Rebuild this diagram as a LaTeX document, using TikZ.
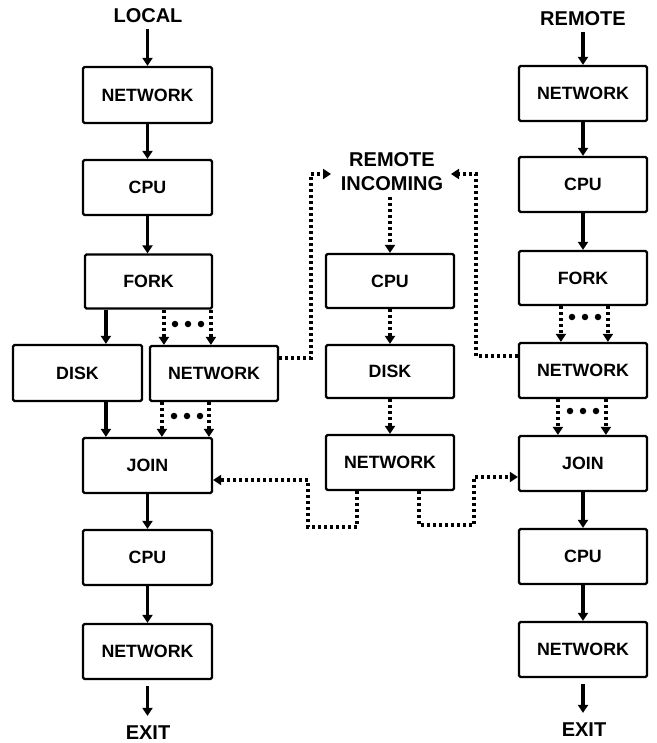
\documentclass[tikz,border=0pt]{standalone}
\usepackage{fontspec}
\setmainfont{Liberation Sans}
\usetikzlibrary{arrows.meta}
\begin{document}
\begin{tikzpicture}[x=1pt,y=-1pt,
  box/.style={draw,line width=2.2pt,rounded corners=1.5pt,minimum width=128pt,minimum height=55pt,inner sep=0pt,font=\fontsize{17.8}{20}\selectfont\bfseries},
  lbl/.style={font=\fontsize{20}{24}\selectfont\bfseries,inner sep=0pt,align=center},
  solidarrow/.style={line width=3.3pt,-{Triangle[length=8pt,width=10pt]}},
  dotarrow/.style={line width=3.3pt,dash pattern=on 3pt off 3pt,-{Triangle[length=8pt,width=10pt]}},
  blob/.style={circle,fill=black,minimum size=6.5pt,inner sep=0pt}]
\useasboundingbox (0,0) rectangle (656,743);
% left column
\node[lbl] (local) at (148,16) {LOCAL};
\node[box,minimum width=129pt,minimum height=56pt] (lnet1) at (147.5,95) {NETWORK};
\node[box,minimum width=129pt] (lcpu1) at (147.5,187.5) {CPU};
\node[box,minimum width=127pt,minimum height=54pt] (lfork) at (148.5,281.5) {FORK};
\node[box,minimum width=129pt,minimum height=56pt] (ldisk) at (77.5,373) {DISK};
\node[box] (lnet2) at (214,373.5) {NETWORK};
\node[box,minimum width=129pt] (ljoin) at (147.5,465.5) {JOIN};
\node[box,minimum width=129pt] (lcpu2) at (147.5,557.5) {CPU};
\node[box,minimum width=129pt] (lnet3) at (147.5,651.5) {NETWORK};
\node[lbl] (lexit) at (148,733) {EXIT};
% middle column
\node[lbl] (rin) at (392,172) {REMOTE\\INCOMING};
\node[box,minimum height=54pt] (mcpu) at (390,281) {CPU};
\node[box,minimum height=53pt] (mdisk) at (390,371.5) {DISK};
\node[box] (mnet) at (390,462.5) {NETWORK};
% right column
\node[lbl] (remote) at (583,19) {REMOTE};
\node[box] (rnet1) at (583,93.5) {NETWORK};
\node[box] (rcpu1) at (583,184.5) {CPU};
\node[box,minimum height=54pt] (rfork) at (583,278) {FORK};
\node[box] (rnet2) at (583,370.5) {NETWORK};
\node[box] (rjoin) at (583,463.5) {JOIN};
\node[box] (rcpu2) at (583,556.5) {CPU};
\node[box] (rnet3) at (583,649.5) {NETWORK};
\node[lbl] (rexit) at (584,730) {EXIT};
% left solid arrows
\draw[solidarrow] ([yshift=-6pt]local.south -| lnet1.north) -- (lnet1.north);
\draw[solidarrow] (lnet1.south) -- (lcpu1.north);
\draw[solidarrow] (lcpu1.south) -- (lcpu1.south |- lfork.north);
\draw[solidarrow] ([xshift=22pt]lfork.south west) -- ([xshift=22pt]lfork.south west |- ldisk.north);
\draw[solidarrow] ([xshift=24pt]ljoin.north west |- ldisk.south) -- ([xshift=24pt]ljoin.north west);
\draw[solidarrow] (ljoin.south) -- (lcpu2.north);
\draw[solidarrow] (lcpu2.south) -- (lnet3.north);
\draw[solidarrow] ([yshift=-6pt]lnet3.south) -- ([yshift=10pt]lexit.north -| lnet3.south);
% left dotted fork/join arrows
\draw[dotarrow] ([xshift=15pt]lnet2.north west |- lfork.south) -- ([xshift=15pt]lnet2.north west);
\draw[dotarrow] ([xshift=62pt]lnet2.north west |- lfork.south) -- ([xshift=62pt]lnet2.north west);
\node[blob] (ld1) at (175,324) {};
\node[blob] (ld2) at (188,324) {};
\node[blob] (ld3) at (201,324) {};
\draw[dotarrow] ([xshift=13pt]lnet2.south west) -- ([xshift=13pt]lnet2.south west |- ljoin.north);
\draw[dotarrow] ([xshift=60pt]lnet2.south west) -- ([xshift=60pt]lnet2.south west |- ljoin.north);
\node[blob] (ld4) at (174,416) {};
\node[blob] (ld5) at (187,416) {};
\node[blob] (ld6) at (200,416) {};
% middle dotted arrows
\draw[dotarrow] ([yshift=-6pt]rin.south -| mcpu.north) -- (mcpu.north);
\draw[dotarrow] (mcpu.south) -- (mdisk.north);
\draw[dotarrow] (mdisk.south) -- (mnet.north);
% right solid arrows
\draw[solidarrow] ([yshift=-6pt]remote.south -| rnet1.north) -- (rnet1.north);
\draw[solidarrow] (rnet1.south) -- (rcpu1.north);
\draw[solidarrow] (rcpu1.south) -- (rfork.north);
\draw[solidarrow] (rjoin.south) -- (rcpu2.north);
\draw[solidarrow] (rcpu2.south) -- (rnet3.north);
\draw[solidarrow] ([yshift=-6pt]rnet3.south) -- ([yshift=10pt]rexit.north -| rnet3.south);
% right dotted fork/join arrows
\draw[dotarrow] ([xshift=43pt]rfork.south west) -- ([xshift=43pt]rfork.south west |- rnet2.north);
\draw[dotarrow] ([xshift=90pt]rfork.south west) -- ([xshift=90pt]rfork.south west |- rnet2.north);
\node[blob] (rd1) at (572,317) {};
\node[blob] (rd2) at (585,317) {};
\node[blob] (rd3) at (598,317) {};
\draw[dotarrow] ([xshift=40pt]rnet2.south west) -- ([xshift=40pt]rnet2.south west |- rjoin.north);
\draw[dotarrow] ([xshift=88pt]rnet2.south west) -- ([xshift=88pt]rnet2.south west |- rjoin.north);
\node[blob] (rd4) at (570,411) {};
\node[blob] (rd5) at (583,411) {};
\node[blob] (rd6) at (596,411) {};
% cross connections
\coordinate (riL) at (331,174);
\coordinate (riR) at (451,174);
\draw[dotarrow] ([yshift=-13pt]lnet2.north east) -| (311,174) -- (riL);
\draw[dotarrow] ([yshift=-14pt]rnet2.north west) -| (476,174) -- (riR);
\draw[dotarrow] ([xshift=32pt]mnet.south west) |- (308,527) |- ([yshift=-14.5pt]ljoin.east);
\draw[dotarrow] ([xshift=94pt]mnet.south west) |- (474,525) |- ([yshift=-13.5pt]rjoin.west);
\end{tikzpicture}
\end{document}
